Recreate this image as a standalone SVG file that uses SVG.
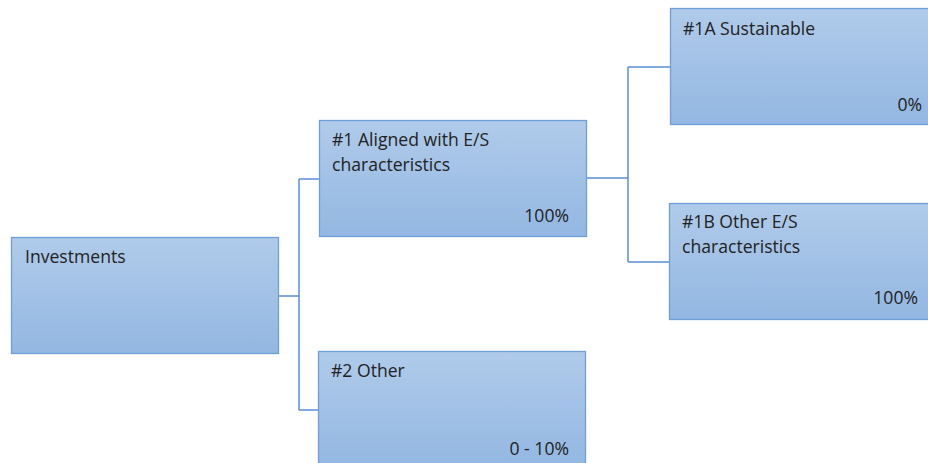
<svg xmlns="http://www.w3.org/2000/svg" width="928" height="463" viewBox="0 0 928 463">
<defs>
<linearGradient id="g" x1="0" y1="0" x2="0" y2="1">
<stop offset="0" stop-color="#b0cbea"/>
<stop offset="1" stop-color="#93b7e2"/>
</linearGradient>
<style>
.box{fill:url(#g);stroke:#6d9fd8;stroke-width:1.3}
.t{font-family:"Open Sans","Liberation Sans",Arial,sans-serif;font-size:17.6px;fill:#222222}
.r{text-anchor:end}
.c{fill:none;stroke:#5b8fd6;stroke-width:1.5}
</style>
</defs>
<rect width="928" height="463" fill="#ffffff"/>
<g id="connectors">
<path class="c" d="M278 296H299M299 179V410M299 179H319M299 410H318"/>
<path class="c" d="M586 178H628M628 67V262M628 67H670M628 262H669"/>
</g>
<g id="investments">
<rect class="box" x="11.5" y="237.5" width="267" height="116"/>
<text class="t" x="25" y="263">Investments</text>
</g>
<g id="aligned">
<rect class="box" x="319.5" y="120.5" width="267" height="116"/>
<text class="t" x="332" y="146">#1 Aligned with E/S</text>
<text class="t" x="332" y="171">characteristics</text>
<text class="t r" x="569" y="222">100%</text>
</g>
<g id="other">
<rect class="box" x="318.5" y="351.5" width="267" height="116"/>
<text class="t" x="331" y="377">#2 Other</text>
<text class="t r" x="569" y="455">0 - 10%</text>
</g>
<g id="sustainable">
<rect class="box" x="670.5" y="8.5" width="267" height="116"/>
<text class="t" x="683" y="35">#1A Sustainable</text>
<text class="t r" x="922" y="111">0%</text>
</g>
<g id="other-es">
<rect class="box" x="669.5" y="203.5" width="267" height="116"/>
<text class="t" x="682" y="228">#1B Other E/S</text>
<text class="t" x="682" y="253">characteristics</text>
<text class="t r" x="918" y="304">100%</text>
</g>
</svg>
